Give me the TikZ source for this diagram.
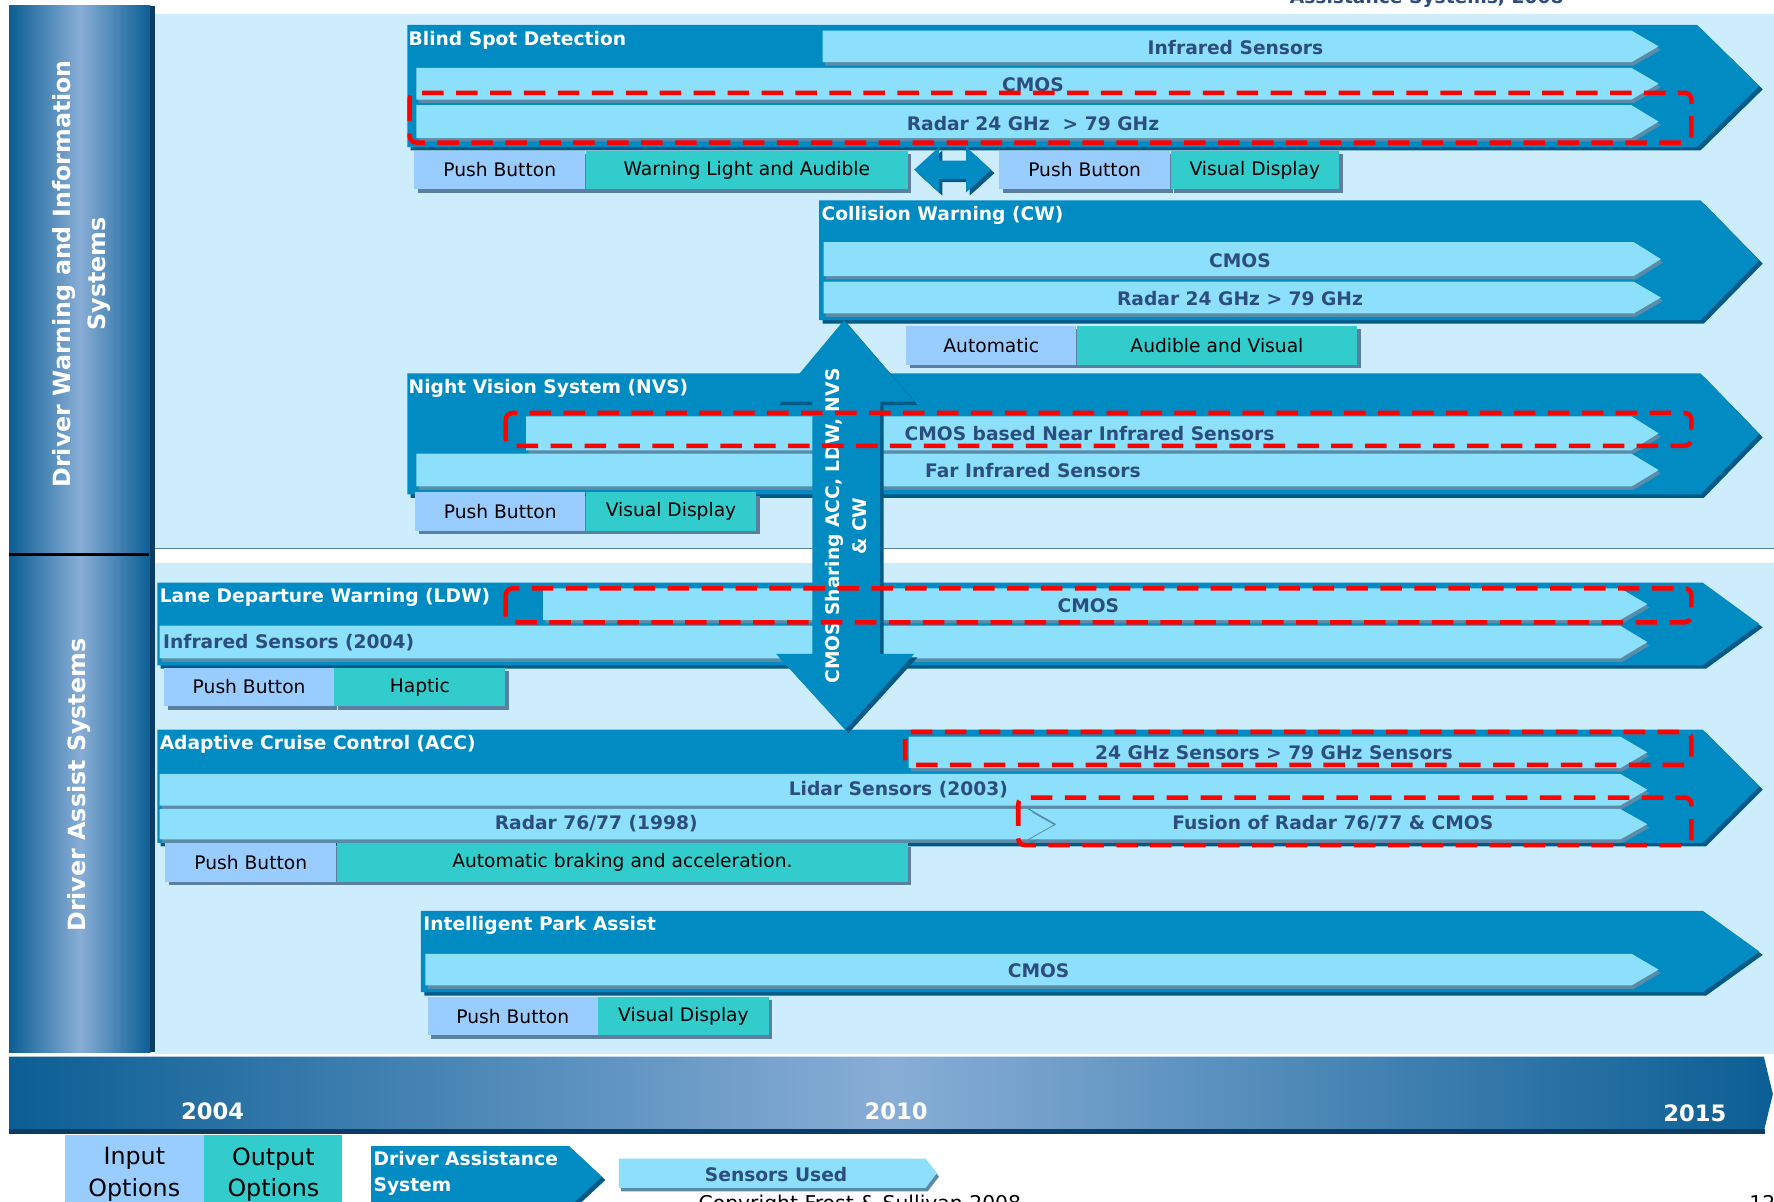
\documentclass[tikz,border=0pt]{standalone}
\usepackage{fontspec}
\setmainfont{DejaVu Sans}
\usetikzlibrary{positioning,shadows}
\definecolor{panelbg}{HTML}{CDEDFD}
\definecolor{sysblue}{HTML}{008CC3}
\definecolor{sysdark}{HTML}{005A87}
\definecolor{sensorfill}{HTML}{8CE0FC}
\definecolor{sensorshadow}{HTML}{5A8BA8}
\definecolor{sensortext}{HTML}{2D4D7D}
\definecolor{inputfill}{HTML}{99CCFF}
\definecolor{outputfill}{HTML}{33CCCC}
\definecolor{boxshadow}{HTML}{5B7FA0}
\definecolor{bardark}{HTML}{0B5E94}
\definecolor{barlight}{HTML}{88AED6}
\definecolor{bardeep}{HTML}{0A3C66}
\begin{document}
\begin{tikzpicture}[x=1pt,y=-1pt,
  every node/.style={inner sep=0pt},
  sysfill/.style={fill=sysblue, general shadow={fill=sysdark, shadow xshift=3pt, shadow yshift=-3pt}},
  sensor/.style={fill=sensorfill, general shadow={fill=sensorshadow, shadow xshift=2pt, shadow yshift=-3pt}},
  systitle/.style={anchor=west, text=white, font=\fontsize{16.5}{20}\selectfont\bfseries},
  sensorlabel/.style={text=sensortext, font=\fontsize{16.5}{20}\selectfont\bfseries},
  optbox/.style={minimum height=34pt, font=\fontsize{16.5}{20}\selectfont,
    general shadow={fill=boxshadow, shadow xshift=3pt, shadow yshift=-3pt}},
  inbox/.style={optbox, fill=inputfill},
  outbox/.style={optbox, fill=outputfill},
  fuse/.style={draw=red, line width=4pt, dash pattern=on 19pt off 11pt, rounded corners=6pt},
  barshade/.style={left color=bardark, right color=bardark, middle color=barlight},
  yearlabel/.style={text=white, font=\fontsize{20}{24}\selectfont\bfseries},
  sidelabel/.style={rotate=90, align=center, text=white, font=\fontsize{21}{31}\selectfont\bfseries}]
\clip (0,0) rectangle (1568,1062);
\fill[white] (0,0) rectangle (1568,1062);
\fill[panelbg] (137,12) rectangle (1568,485);
\fill[panelbg] (137,498) rectangle (1568,932);
\draw[boxshadow, line width=1pt] (137,485) -- (1568,485);
\shade[barshade] (8,5) rectangle (133,930);
\fill[bardeep] (133,5) rectangle (137,930);
\draw[line width=3pt] (8,490) -- (132,490);
\node[sidelabel] (dwis) at (72,242) {Driver Warning and Information\\Systems};
\node[sidelabel] (das) at (70,694) {Driver Assist Systems};
\shade[barshade] (8,934) -- (1559,934) -- (1567,967) -- (1559,1000) -- (8,1000) -- cycle;
\fill[bardeep] (8,998) rectangle (1560,1002);
\node[yearlabel] (y2004) at (188,982) {2004};
\node[yearlabel] (y2010) at (792,982) {2010};
\node[yearlabel] (y2015) at (1498,984) {2015};
\node[anchor=base, sensorlabel] (title) at (1261,3) {Assistance Systems, 2008};
% blind spot detection
\fill[sysfill] (360,22) -- (1500,22) -- (1555,76) -- (1500,130) -- (360,130) -- cycle;
\node[systitle] (bsd) at (361,36) {Blind Spot Detection};
\fill[sensor] (727,27) -- (1442,27) -- (1466,41) -- (1442,55) -- (727,55) -- cycle;
\node[sensorlabel] (bsdir) at (1092,42) {Infrared Sensors};
\fill[sensor] (368,60) -- (1442,60) -- (1466,74) -- (1442,88) -- (368,88) -- cycle;
\node[sensorlabel] (bsdcmos) at (913,75) {CMOS};
\fill[sensor] (368,93) -- (1442,93) -- (1466,107.5) -- (1442,122) -- (368,122) -- cycle;
\node[sensorlabel] (bsdradar) at (913,109) {Radar 24 GHz \ > 79 GHz};
\node[inbox, minimum width=151pt, anchor=north west] (bsdin1) at (366,133) {Push Button};
\node[outbox, minimum width=285pt, right=0pt of bsdin1] (bsdout1) {Warning Light and Audible};
\node[inbox, minimum width=151pt, anchor=north west] (bsdin2) at (883,133) {Push Button};
\node[outbox, minimum width=149pt, right=0pt of bsdin2] (bsdout2) {Visual Display};
\fill[sysfill] (808,150) -- (830,130) -- (830,142) -- (854,142) -- (854,130) -- (876,150) -- (854,170) -- (854,158) -- (830,158) -- (830,170) -- cycle;
% collision warning
\fill[sysfill] (724,177) -- (1503,177) -- (1555,230) -- (1503,283) -- (724,283) -- cycle;
\node[systitle] (cw) at (726,190) {Collision Warning (CW)};
\fill[sensor] (728,214) -- (1444,214) -- (1468,229) -- (1444,244) -- (728,244) -- cycle;
\node[sensorlabel] (cwcmos) at (1096,230) {CMOS};
\fill[sensor] (728,249) -- (1444,249) -- (1468,263) -- (1444,277) -- (728,277) -- cycle;
\node[sensorlabel] (cwradar) at (1096,264) {Radar 24 GHz > 79 GHz};
\node[inbox, minimum width=150pt, anchor=north west] (cwin) at (801,288) {Automatic};
\node[outbox, minimum width=248pt, right=0pt of cwin] (cwout) {Audible and Visual};
% night vision
\fill[sysfill] (360,330) -- (1503,330) -- (1555,383.5) -- (1503,437) -- (360,437) -- cycle;
\node[systitle] (nvs) at (361,343) {Night Vision System (NVS)};
\fill[sensor] (465,368) -- (1442,368) -- (1466,383) -- (1442,398) -- (465,398) -- cycle;
\fill[sensor] (368,401) -- (1442,401) -- (1466,415.5) -- (1442,430) -- (368,430) -- cycle;
\node[inbox, minimum width=150pt, anchor=north west] (nvsin) at (367,435) {Push Button};
\node[outbox, minimum width=151pt, right=0pt of nvsin] (nvsout) {Visual Display};
% lane departure warning
\fill[sysfill] (139,515) -- (1505,515) -- (1555,551.5) -- (1505,588) -- (139,588) -- cycle;
\node[systitle] (ldw) at (141,528) {Lane Departure Warning (LDW)};
\fill[sensor] (480,520) -- (1432,520) -- (1456,534) -- (1432,548) -- (480,548) -- cycle;
\fill[sensor] (141,553) -- (1432,553) -- (1456,567.5) -- (1432,582) -- (141,582) -- cycle;
\node[sensorlabel, anchor=west] (ldwir) at (144,568) {Infrared Sensors (2004)};
\node[inbox, minimum width=150pt, anchor=north west] (ldwin) at (145,590) {Push Button};
\node[outbox, minimum width=151pt, right=0pt of ldwin] (ldwout) {Haptic};
% adaptive cruise control
\fill[sysfill] (139,645) -- (1505,645) -- (1555,695) -- (1505,745) -- (139,745) -- cycle;
\node[systitle] (acc) at (141,658) {Adaptive Cruise Control (ACC)};
\fill[sensor] (803,651) -- (1432,651) -- (1456,665) -- (1432,679) -- (803,679) -- cycle;
\node[sensorlabel] (accghz) at (1126,665) {24 GHz Sensors > 79 GHz Sensors};
\fill[sensor] (141,684) -- (1432,684) -- (1456,698) -- (1432,712) -- (141,712) -- cycle;
\node[sensorlabel] (acclidar) at (794,698) {Lidar Sensors (2003)};
\fill[sensor] (141,715) -- (908,715) -- (932,728.5) -- (908,742) -- (141,742) -- cycle;
\node[sensorlabel] (accradar) at (527,728) {Radar 76/77 (1998)};
\fill[sensor] (910,715) -- (1432,715) -- (1456,728.5) -- (1432,742) -- (910,742) -- (934,728.5) -- cycle;
\node[sensorlabel] (accfusion) at (1178,728) {Fusion of Radar 76/77 \& CMOS};
\node[inbox, minimum width=151pt, anchor=north west] (accin) at (146,745) {Push Button};
\node[outbox, minimum width=505pt, right=0pt of accin] (accout) {Automatic braking and acceleration.};
% intelligent park assist
\fill[sysfill] (372,805) -- (1505,805) -- (1555,841) -- (1505,877) -- (372,877) -- cycle;
\node[systitle] (ipa) at (374,818) {Intelligent Park Assist};
\fill[sensor] (376,843) -- (1442,843) -- (1466,857) -- (1442,871) -- (376,871) -- cycle;
\node[sensorlabel] (ipacmos) at (918,858) {CMOS};
\node[inbox, minimum width=150pt, anchor=north west] (ipain) at (378,881) {Push Button};
\node[outbox, minimum width=151pt, right=0pt of ipain] (ipaout) {Visual Display};
% shared cmos
\fill[sysfill] (746,283) -- (808,355) -- (778,355) -- (778,578) -- (808,578) -- (747,645) -- (686,578) -- (718,578) -- (718,355) -- (686,355) -- cycle;
\node[sensorlabel] (nvscmos) at (963,383) {CMOS based Near Infrared Sensors};
\node[sensorlabel] (nvsfir) at (913,416) {Far Infrared Sensors};
\node[sensorlabel] (ldwcmos) at (962,535) {CMOS};
\node[rotate=90, align=center, text=white, font=\fontsize{16.5}{24}\selectfont\bfseries] (share) at (748,465) {CMOS Sharing ACC, LDW, NVS\\\& CW};
\draw[fuse] (362,82) rectangle (1495,126);
\draw[fuse] (447,365) rectangle (1495,394);
\draw[fuse] (447,520) rectangle (1495,550);
\draw[fuse] (800,647) rectangle (1495,676);
\draw[fuse] (900,705) rectangle (1495,747);
% legend
\node[fill=inputfill, minimum width=123pt, minimum height=70pt, anchor=north west, align=center, font=\fontsize{21}{28}\selectfont] (legin) at (57,1003) {Input\\Options};
\node[fill=outputfill, minimum width=122pt, minimum height=70pt, right=0pt of legin, align=center, font=\fontsize{21}{28}\selectfont] (legout) {Output\\Options};
\fill[sysfill] (328,1013) -- (503,1013) -- (532,1040) -- (503,1067) -- (328,1067) -- cycle;
\node[anchor=north west, align=left, text=white, font=\fontsize{16.5}{23}\selectfont\bfseries] (legsys) at (330,1017) {Driver Assistance\\System};
\fill[sensor] (547,1024) -- (818,1024) -- (828,1037) -- (818,1050) -- (547,1050) -- cycle;
\node[sensorlabel] (legsensor) at (686,1038) {Sensors Used};
\node[anchor=north, font=\fontsize{18}{21}\selectfont] (copy) at (760,1056) {Copyright Frost \& Sullivan 2008};
\node[anchor=north west, font=\fontsize{18}{21}\selectfont] (page) at (1546,1056) {12};
\end{tikzpicture}
\end{document}
